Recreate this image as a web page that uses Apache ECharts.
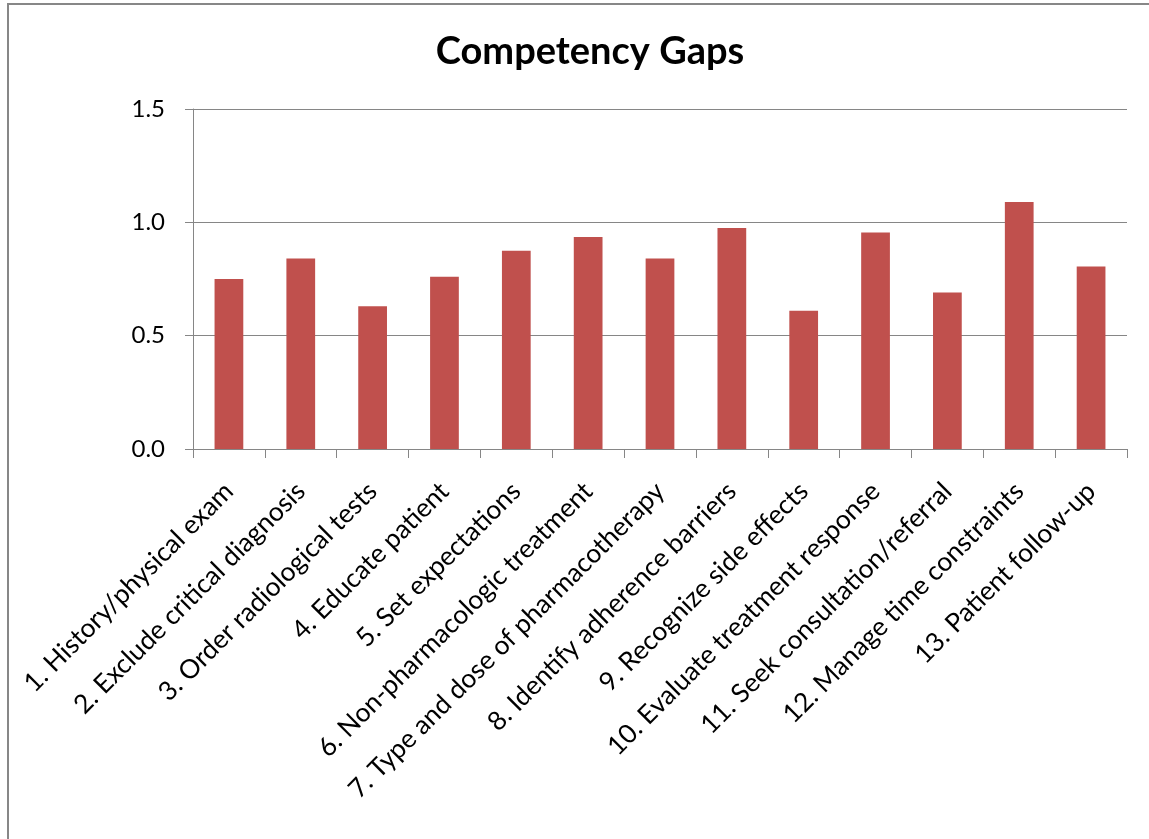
<!DOCTYPE html>
<html>
<head>
<meta charset="utf-8">
<script src="https://cdn.jsdelivr.net/npm/echarts@6/dist/echarts.min.js"></script>
<style>
html,body{margin:0;padding:0;background:#fff;}
#chart{width:1149px;height:839px;}
</style>
</head>
<body>
<div id="chart"></div>
<script>
const categories = [
  "1. History/physical exam",
  "2. Exclude critical diagnosis",
  "3. Order radiological tests",
  "4. Educate patient",
  "5. Set expectations",
  "6. Non-pharmacologic treatment",
  "7. Type and dose of pharmacotherapy",
  "8. Identify adherence barriers",
  "9. Recognize side effects",
  "10. Evaluate treatment response",
  "11. Seek consultation/referral",
  "12. Manage time constraints",
  "13. Patient follow-up"
];
const values = [0.75, 0.84, 0.63, 0.76, 0.875, 0.935, 0.84, 0.975, 0.61, 0.955, 0.69, 1.09, 0.805];
const yTicks = { min: 0, max: 1.5, interval: 0.5 };
const titleText = "Competency Gaps";

const chart = echarts.init(document.getElementById('chart'));
const font = 'Lato, "Open Sans", sans-serif';
chart.setOption({
  backgroundColor: '#ffffff',
  animation: false,
  title: {
    text: titleText,
    left: 585, top: 28, textAlign: 'center',
    textStyle: { fontFamily: font, fontWeight: 'bold', fontSize: 38, color: '#000' }
  },
  graphic: [{
    type: 'rect', shape: { x: 8, y: 4, width: 1200, height: 900 },
    style: { fill: 'none', stroke: '#878787', lineWidth: 2 }, silent: true
  }],
  grid: { left: 193, right: 22, top: 109, bottom: 390 },
  xAxis: {
    type: 'category', data: categories, boundaryGap: true,
    axisLine: { lineStyle: { color: '#868686', width: 1 } },
    axisTick: { show: true, length: 9, lineStyle: { color: '#868686' } },
    axisLabel: { rotate: 45, interval: 0, margin: 38, fontFamily: font, fontSize: 26.3, color: '#000' }
  },
  yAxis: {
    type: 'value', min: yTicks.min, max: yTicks.max, interval: yTicks.interval,
    axisLine: { show: true, lineStyle: { color: '#868686' } },
    axisTick: { show: true, length: 8, lineStyle: { color: '#868686' } },
    splitLine: { lineStyle: { color: '#868686', width: 1 } },
    axisLabel: { margin: 28, fontFamily: font, fontSize: 24, color: '#000', formatter: v => v.toFixed(1) }
  },
  series: [{
    type: 'bar', data: values, barWidth: '40%',
    itemStyle: { color: '#C0504D' }
  }]
});
</script>
</body>
</html>
